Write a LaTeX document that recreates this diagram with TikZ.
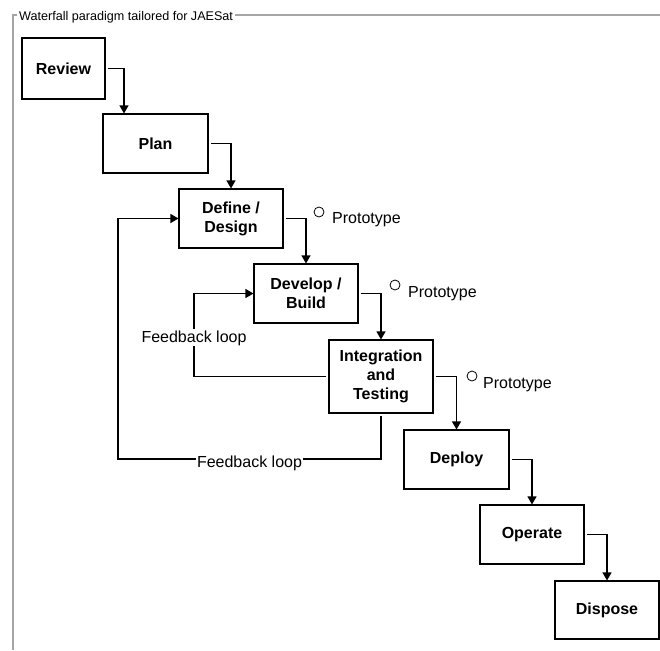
\documentclass[tikz,border=0pt]{standalone}
\usepackage{fontspec}
\setmainfont{Liberation Sans}
\usetikzlibrary{arrows.meta}
\newcommand\ringsize{10pt}
\newcommand\linewd{1.1pt}

\begin{document}
\begin{tikzpicture}[x=1pt,y=-1pt,
    stage/.style={draw,line width=\linewd,minimum width=104pt,minimum height=59pt,inner sep=0pt,
      align=center,font=\fontsize{16}{19}\selectfont\bfseries},
    flow/.style={line width=\linewd,shorten <=2pt,-{Triangle[length=8pt,width=9pt]}},
    note/.style={inner sep=1pt,font=\fontsize{16}{19}\selectfont},
    ring/.style={draw,circle,line width=0.8pt,minimum size=\ringsize,inner sep=0pt}]
  \useasboundingbox (0,0) rectangle (660,650);
  % group box
  \draw[line width=1.2pt,gray!70] (13,650) -- (13,15) -- (660,15);
  \node (title) at (17,21) [anchor=base west,fill=white,inner xsep=2pt,inner ysep=1pt,
    font=\fontsize{12.6}{15}\selectfont] {Waterfall paradigm tailored for JAESat};

  \node (Review) at (63.5,68.5) [stage,minimum width=83pt,minimum height=61pt] {Review};
  \node (Plan) at (155.5,143.5) [stage,minimum width=105pt] {Plan};
  \node (Define) at (231,218.5) [stage] {Define /\\Design};
  \node (Develop) at (306,293.5) [stage] {Develop /\\Build};
  \node (Integration) at (381,376.5) [stage,minimum height=73pt] {Integration\\and\\Testing};
  \node (Deploy) at (456.5,459.5) [stage,minimum width=105pt] {Deploy};
  \node (Operate) at (532,534.5) [stage] {Operate};
  \node (Dispose) at (607,610) [stage,minimum height=58pt] {Dispose};

  \draw[flow] (Review.east) -| ([xshift=-31.5pt]Plan.north);
  \draw[flow] (Plan.east) -| (Define.north);
  \draw[flow] (Define.east) -| (Develop.north);
  \draw[flow] (Develop.east) -| (Integration.north);
  \draw[flow] (Integration.east) -| (Deploy.north);
  \draw[flow] (Deploy.east) -| (Operate.north);
  \draw[flow] (Operate.east) -| (Dispose.north);

  % feedback loops
  \coordinate (innerbend) at (194,336);
  \draw[flow] (Integration.west) -| (innerbend) |- (Develop.west);
  \node (innerlabel) at (194,342) [note,anchor=base,fill=white] {Feedback loop};
  \coordinate (outerbend) at (118,459);
  \draw[flow] (Integration.south) |- (outerbend) |- (Define.west);
  \node (outerlabel) at (249.5,467) [note,anchor=base,fill=white] {Feedback loop};

  % prototypes
  \node (ring1) at (319,212) [ring] {};
  \node (proto1) at (332,223) [note,anchor=base west,inner sep=0pt] {Prototype};
  \node (ring2) at (395,285) [ring] {};
  \node (proto2) at (408,297) [note,anchor=base west,inner sep=0pt] {Prototype};
  \node (ring3) at (472,376) [ring] {};
  \node (proto3) at (483,388) [note,anchor=base west,inner sep=0pt] {Prototype};
\end{tikzpicture}
\end{document}
